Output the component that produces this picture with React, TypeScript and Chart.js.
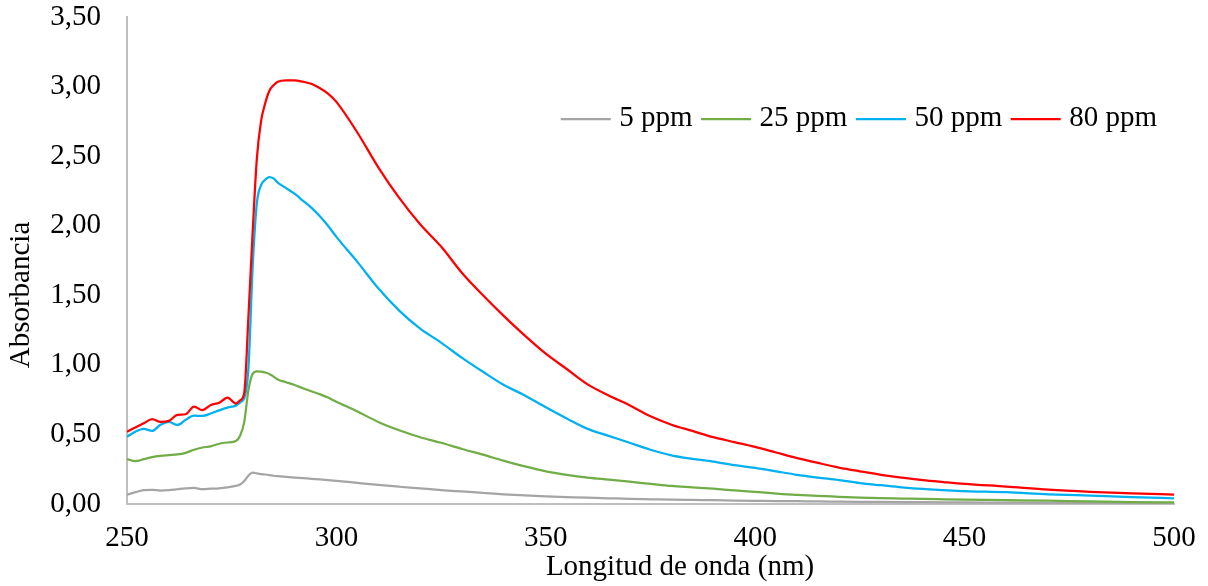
import { useEffect, useRef } from "react";
import { Chart, registerables } from "chart.js";

Chart.register(...registerables);

// Wavelength grid (nm): finer around the absorption edge near 278-290 nm
const wavelengths = [
  250, 252, 254, 256, 258, 260, 262, 264, 266, 268, 270, 272, 274, 276,
  277, 278, 279, 280, 281, 282, 283, 284, 285, 286,
  288, 290, 292, 294, 296, 298, 300,
  305, 310, 315, 320, 325, 330, 335, 340, 345, 350, 355, 360, 365, 370, 375,
  380, 385, 390, 395, 400, 405, 410, 415, 420, 425, 430, 435, 440, 445, 450,
  460, 470, 480, 490, 500,
];

const ppm5 = [
  0.067, 0.085, 0.1, 0.101, 0.097, 0.1, 0.106, 0.112, 0.115, 0.107, 0.11, 0.113, 0.12, 0.13,
  0.14, 0.165, 0.205, 0.226, 0.22, 0.215, 0.212, 0.208, 0.203, 0.2,
  0.195, 0.19, 0.186, 0.181, 0.177, 0.172, 0.167,
  0.152, 0.137, 0.124, 0.112, 0.1, 0.09, 0.08, 0.07, 0.062, 0.055, 0.05, 0.045, 0.041, 0.037, 0.034,
  0.031, 0.029, 0.027, 0.025, 0.023, 0.021, 0.02, 0.018, 0.017, 0.016, 0.015, 0.014, 0.013, 0.012, 0.011,
  0.01, 0.008, 0.007, 0.006, 0.005,
];

const ppm25 = [
  0.322, 0.308, 0.322, 0.337, 0.346, 0.351, 0.356, 0.368, 0.39, 0.406, 0.414, 0.433, 0.442, 0.452,
  0.49, 0.59, 0.82, 0.935, 0.953, 0.952, 0.945, 0.935, 0.915, 0.895,
  0.875, 0.855, 0.832, 0.81, 0.79, 0.765, 0.735,
  0.665, 0.59, 0.53, 0.48, 0.44, 0.395, 0.355, 0.31, 0.27, 0.235, 0.21, 0.19, 0.175, 0.16, 0.145,
  0.13, 0.12, 0.11, 0.098, 0.088, 0.075, 0.066, 0.058, 0.052, 0.046, 0.042, 0.039, 0.036, 0.034, 0.032,
  0.028, 0.024, 0.018, 0.014, 0.011,
];

const ppm50 = [
  0.483, 0.52, 0.54, 0.525, 0.57, 0.59, 0.568, 0.605, 0.635, 0.633, 0.65, 0.673, 0.693, 0.707,
  0.73, 0.76, 0.98, 1.7, 2.16, 2.29, 2.33, 2.35, 2.34, 2.31,
  2.27, 2.23, 2.18, 2.13, 2.07, 2.0, 1.92,
  1.74, 1.55, 1.39, 1.26, 1.16, 1.05, 0.95, 0.855, 0.78, 0.695, 0.615, 0.54, 0.49, 0.44, 0.39,
  0.35, 0.325, 0.305, 0.279, 0.26, 0.235, 0.21, 0.19, 0.172, 0.15, 0.135, 0.12, 0.108, 0.1, 0.093,
  0.085, 0.07, 0.06, 0.05, 0.041,
];

const ppm80 = [
  0.52, 0.55, 0.58, 0.61, 0.59, 0.597, 0.64, 0.645, 0.7, 0.675, 0.712, 0.727, 0.765, 0.722,
  0.745, 0.8, 1.35, 1.95, 2.48, 2.75, 2.88, 2.97, 3.01, 3.035,
  3.045, 3.045, 3.035, 3.02, 2.99, 2.95, 2.89,
  2.67, 2.42, 2.2, 2.01, 1.85, 1.66, 1.5, 1.35, 1.21, 1.08, 0.97, 0.86, 0.78, 0.71, 0.63,
  0.57, 0.525, 0.48, 0.445, 0.41, 0.37, 0.33, 0.295, 0.262, 0.235, 0.21, 0.19, 0.172, 0.158, 0.145,
  0.125, 0.103, 0.088, 0.077, 0.068,
];

const seriesLabels = ["5 ppm", "25 ppm", "50 ppm", "80 ppm"];
const seriesValues = [ppm5, ppm25, ppm50, ppm80];
const seriesColors = ["#A5A5A5", "#70AD47", "#00B0F0", "#FF0000"];

const xTicks = [250, 300, 350, 400, 450, 500];
const yTicks = [0, 0.5, 1, 1.5, 2, 2.5, 3, 3.5];

const xTitle = "Longitud de onda (nm)";
const yTitle = "Absorbancia";

const FONT_FAMILY = '"Liberation Serif", "Times New Roman", serif';
const FONT_SIZE = 29;
const AXIS_COLOR = "#BFBFBF";

// Legend drawn as one row inside the plot, near its top-right corner,
// plus the two axis titles placed like the spreadsheet layout
const chartDecorations = {
  id: "chartDecorations",
  afterDatasetsDraw(chart: any) {
    const { ctx, chartArea } = chart;
    const swatch = 50;
    const gap = 8.5;
    ctx.save();
    ctx.font = `${FONT_SIZE}px ${FONT_FAMILY}`;
    const items = chart.data.datasets.map((ds: any) => ({
      text: ds.label as string,
      color: ds.borderColor as string,
      w: ctx.measureText(ds.label).width,
    }));
    const total =
      items.reduce((s: number, it: any) => s + swatch + gap + it.w + gap, 0) - gap;
    let x = chartArea.right - 17 - total;
    const y = chartArea.top + 101;
    ctx.textBaseline = "middle";
    ctx.textAlign = "left";
    for (const it of items) {
      ctx.strokeStyle = it.color;
      ctx.lineWidth = 2.25;
      ctx.beginPath();
      ctx.moveTo(x, y + 1);
      ctx.lineTo(x + swatch, y + 1);
      ctx.stroke();
      x += swatch + gap;
      ctx.fillStyle = "#000000";
      ctx.fillText(it.text, x, y);
      x += it.w + gap;
    }

    // axis titles
    ctx.fillStyle = "#000000";
    ctx.textAlign = "center";
    ctx.textBaseline = "middle";
    ctx.fillText(xTitle, chartArea.left + 553, chart.height - 18.5);
    ctx.translate(21.5, chartArea.top + 278);
    ctx.rotate(-Math.PI / 2);
    ctx.fillText(yTitle, 0, 0);
    ctx.restore();
  },
};

export default function App() {
  const canvasRef = useRef<HTMLCanvasElement | null>(null);

  useEffect(() => {
    document.body.style.margin = "0";
    const canvas = canvasRef.current;
    if (!canvas) return;

    const datasets = seriesLabels.map((label, i) => ({
      label,
      data: wavelengths.map((x, j) => ({ x, y: seriesValues[i][j] })),
      borderColor: seriesColors[i],
      backgroundColor: seriesColors[i],
      borderWidth: 2.25,
      pointRadius: 0,
      pointHoverRadius: 0,
      cubicInterpolationMode: "monotone" as const,
      fill: false,
      order: seriesLabels.length - i,
    }));

    const chart = new Chart(canvas, {
      type: "line",
      data: { datasets },
      plugins: [chartDecorations],
      options: {
        animation: false,
        responsive: false,
        devicePixelRatio: 1,
        events: [],
        layout: { padding: { top: 17, right: 34, bottom: 0, left: 0 } },
        plugins: {
          legend: { display: false },
          tooltip: { enabled: false },
        },
        scales: {
          x: {
            type: "linear",
            min: 250,
            max: 500,
            afterBuildTicks: (s: any) => {
              s.ticks = xTicks.map((value) => ({ value }));
            },
            afterFit: (s: any) => {
              s.height = 82;
              s.paddingLeft = 0;
              s.paddingRight = 0;
            },
            grid: { display: false, drawTicks: false },
            border: { display: true, color: AXIS_COLOR, width: 2 },
            ticks: {
              padding: 17,
              color: "#000000",
              font: { family: FONT_FAMILY, size: FONT_SIZE },
              maxRotation: 0,
              callback: (v: any) => String(v),
            },
            title: { display: false },
          },
          y: {
            type: "linear",
            min: 0,
            max: 3.5,
            afterBuildTicks: (s: any) => {
              s.ticks = yTicks.map((value) => ({ value }));
            },
            afterFit: (s: any) => {
              s.width = 127;
              s.paddingTop = 0;
              s.paddingBottom = 0;
            },
            grid: { display: false, drawTicks: false },
            border: { display: true, color: AXIS_COLOR, width: 2 },
            ticks: {
              padding: 26,
              color: "#000000",
              font: { family: FONT_FAMILY, size: FONT_SIZE },
              callback: (v: any) => Number(v).toFixed(2).replace(".", ","),
            },
            title: { display: false },
          },
        },
      },
    });

    return () => chart.destroy();
  }, []);

  return (
    <div style={{ width: 1208, height: 586, background: "#ffffff" }}>
      <canvas ref={canvasRef} width={1208} height={586} />
    </div>
  );
}
